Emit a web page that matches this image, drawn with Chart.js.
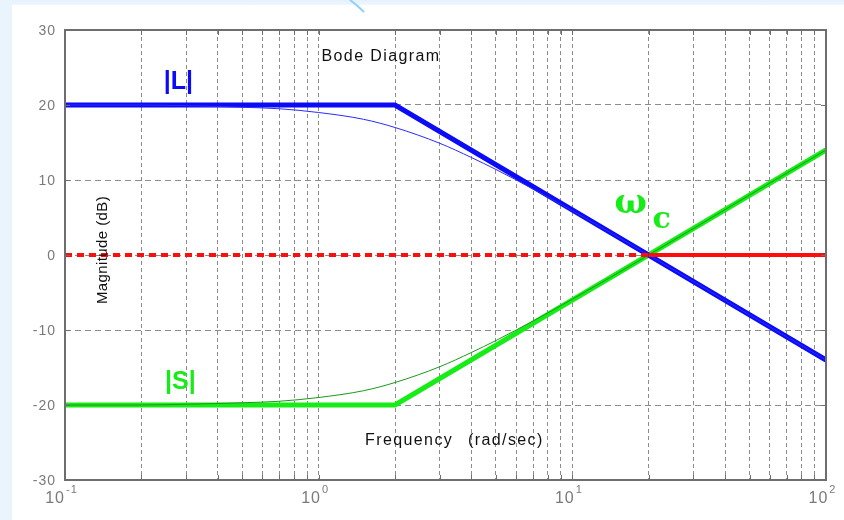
<!DOCTYPE html>
<html>
<head>
<meta charset="utf-8">
<script src="https://cdn.jsdelivr.net/npm/chart.js@4/dist/chart.umd.min.js"></script>
<style>
  html, body { margin: 0; padding: 0; }
  body {
    width: 844px; height: 520px; overflow: hidden; position: relative;
    background:
      linear-gradient(to right, #eaf4fd 0, #eaf4fd 12px, rgba(255,255,255,0) 12px),
      linear-gradient(to bottom, #e4f1fc 0, #eef7fe 5px, #ffffff 5px);
  }
  #deco { position: absolute; left: 0; top: 0; }
  #chart { position: absolute; left: 0; top: 0; }
</style>
</head>
<body>
<svg id="deco" width="844" height="20">
  <path d="M 350 0 Q 357 5 364 12" stroke="#8fd0f4" stroke-width="2" fill="none"/>
</svg>
<canvas id="chart" width="844" height="520"></canvas>
<script>
// Frequency axis (rad/sec) and magnitude axis (dB)
const xGrid = [0.1, 0.2, 0.3, 0.4, 0.5, 0.6, 0.7, 0.8, 0.9,
               1, 2, 3, 4, 5, 6, 7, 8, 9,
               10, 20, 30, 40, 50, 60, 70, 80, 90, 100];
const xDecades = [0.1, 1, 10, 100];
const xDecadeExp = ['-1', '0', '1', '2'];
const yTicks = [30, 20, 10, 0, -10, -20, -30];

// Straight-line (asymptotic) magnitudes
const asymFreq = [0.1, 2, 100];
const asymL = [20, 20, -14];
const asymS = [-20, -20, 14];

// Exact magnitude curves
const curveFreq = [0.1, 0.2, 0.3, 0.5, 0.7, 1, 1.5, 2, 3, 4, 5, 7, 10, 20, 50, 100];
const curveL = [20.0, 20.0, 19.9, 19.7, 19.5, 19.0, 18.1, 17.0, 14.9, 13.0, 11.4, 8.8, 5.9, 0.0, -8.0, -14.0];
const curveS = [-20.0, -20.0, -19.9, -19.7, -19.5, -19.0, -18.1, -17.0, -14.9, -13.0, -11.4, -8.8, -5.9, 0.0, 8.0, 14.0];

// 0 dB reference: dotted up to crossover, solid beyond
const wc = 20;
const zeroDotFreq = [0.1, wc];
const zeroSolidFreq = [wc, 100];
const zeroDb = [0, 0];

const pts = (xs, ys) => xs.map((x, i) => ({ x: x, y: ys[i] }));

const BLUE = '#0b0bf5';
const GREEN = '#16ec16';
const RED = '#ff0c0c';
const GRID = '#8c8c8c';
const FRAME = '#6e6e6e';
const LABEL = '#7a7a7a';

const decorations = {
  id: 'decorations',
  afterDraw(chart) {
    const ctx = chart.ctx;
    const a = chart.chartArea;
    const xs = chart.scales.x, ys = chart.scales.y;
    ctx.save();

    // frame
    ctx.strokeStyle = FRAME;
    ctx.lineWidth = 2;
    ctx.setLineDash([]);
    ctx.strokeRect(a.left, a.top, a.right - a.left, a.bottom - a.top);

    // inward tick marks
    ctx.lineWidth = 1;
    ctx.beginPath();
    xGrid.forEach(v => {
      const px = Math.round(xs.getPixelForValue(v)) + 0.5;
      ctx.moveTo(px, a.top); ctx.lineTo(px, a.top + 5);
      ctx.moveTo(px, a.bottom); ctx.lineTo(px, a.bottom - 5);
    });
    yTicks.forEach(v => {
      const py = Math.round(ys.getPixelForValue(v)) + 0.5;
      ctx.moveTo(a.left, py); ctx.lineTo(a.left + 5, py);
      ctx.moveTo(a.right, py); ctx.lineTo(a.right - 5, py);
    });
    ctx.stroke();

    // y tick labels
    ctx.fillStyle = LABEL;
    ctx.font = '14px "Liberation Sans", Arial, sans-serif';
    ctx.letterSpacing = '1px';
    ctx.textAlign = 'right';
    ctx.textBaseline = 'middle';
    yTicks.forEach(v => {
      ctx.fillText(String(v), a.left - 9, ys.getPixelForValue(v) + 1);
    });

    // x tick labels: 10 with exponent
    ctx.textBaseline = 'alphabetic';
    ctx.textAlign = 'left';
    xDecades.forEach((v, i) => {
      const px = xs.getPixelForValue(v);
      ctx.font = '16px "Liberation Sans", Arial, sans-serif';
      const wBase = ctx.measureText('10').width;
      ctx.font = '11px "Liberation Sans", Arial, sans-serif';
      const wExp = ctx.measureText(xDecadeExp[i]).width;
      const start = px - 4 - (wBase + wExp) / 2;
      ctx.font = '16px "Liberation Sans", Arial, sans-serif';
      ctx.fillText('10', start, a.bottom + 23);
      ctx.font = '11px "Liberation Sans", Arial, sans-serif';
      ctx.fillText(xDecadeExp[i], start + wBase + 1, a.bottom + 13);
    });
    ctx.letterSpacing = '0px';

    // inner titles
    ctx.fillStyle = '#111111';
    ctx.font = '16px "Liberation Sans", Arial, sans-serif';
    ctx.letterSpacing = '1.4px';
    ctx.textAlign = 'center';
    ctx.textBaseline = 'middle';
    ctx.fillText('Bode Diagram', 381, 57);
    ctx.textAlign = 'left';
    ctx.fillText('Frequency', 365, 441);
    ctx.fillText('(rad/sec)', 468, 441);
    ctx.textAlign = 'center';
    ctx.letterSpacing = '0.4px';
    ctx.font = '15px "Liberation Sans", Arial, sans-serif';
    ctx.save();
    ctx.translate(103, 250);
    ctx.rotate(-Math.PI / 2);
    ctx.fillText('Magnitude (dB)', 0, 0);
    ctx.restore();
    ctx.letterSpacing = '0px';

    // curve labels
    ctx.font = 'bold 25px "Liberation Sans", Arial, sans-serif';
    ctx.fillStyle = BLUE;
    ctx.fillText('|L|', xs.getPixelForValue(0.28), ys.getPixelForValue(23.1));
    ctx.fillStyle = GREEN;
    ctx.fillText('|S|', xs.getPixelForValue(0.285), ys.getPixelForValue(-16.9));

    // crossover frequency label
    const cx = xs.getPixelForValue(wc), cy = ys.getPixelForValue(0);
    ctx.fillStyle = GREEN;
    ctx.font = 'bold 34px "DejaVu Serif", "Liberation Serif", serif';
    ctx.textAlign = 'center';
    ctx.textBaseline = 'alphabetic';
    ctx.fillText('\u03c9', cx - 18, cy - 42);
    ctx.font = 'bold 30px "DejaVu Serif", "Liberation Serif", serif';
    ctx.fillText('c', cx + 13, cy - 27);

    ctx.restore();
  }
};

new Chart(document.getElementById('chart'), {
  type: 'line',
  data: {
    datasets: [
      { data: pts(zeroDotFreq, zeroDb), borderColor: RED, borderWidth: 4, borderDash: [7, 5], borderCapStyle: 'butt' },
      { data: pts(zeroSolidFreq, zeroDb), borderColor: RED, borderWidth: 4 },
      { data: pts(curveFreq, curveL), borderColor: '#2a2aff', borderWidth: 1, cubicInterpolationMode: 'monotone' },
      { data: pts(curveFreq, curveS), borderColor: '#1a9a1a', borderWidth: 1, cubicInterpolationMode: 'monotone' },
      { data: pts(asymFreq, asymL), borderColor: BLUE, borderWidth: 5 },
      { data: pts(asymFreq, asymS), borderColor: GREEN, borderWidth: 5 }
    ]
  },
  options: {
    responsive: false,
    animation: false,
    devicePixelRatio: 1,
    layout: { padding: { left: 65, right: 18, top: 30, bottom: 40 } },
    elements: { point: { radius: 0 }, line: { tension: 0 } },
    plugins: { legend: { display: false }, tooltip: { enabled: false } },
    scales: {
      x: {
        type: 'logarithmic', min: 0.1, max: 100,
        afterBuildTicks: s => { s.ticks = xGrid.map(v => ({ value: v })); },
        afterFit: s => { s.height = 0; },
        ticks: { display: false },
        grid: { color: GRID, lineWidth: 1, drawTicks: false },
        border: { display: false, dash: [4, 3] }
      },
      y: {
        type: 'linear', min: -30, max: 30,
        afterBuildTicks: s => { s.ticks = yTicks.map(v => ({ value: v })); },
        afterFit: s => { s.width = 0; },
        ticks: { display: false },
        grid: { color: GRID, lineWidth: 1, drawTicks: false },
        border: { display: false, dash: [6, 4] }
      }
    }
  },
  plugins: [decorations]
});
</script>
</body>
</html>
